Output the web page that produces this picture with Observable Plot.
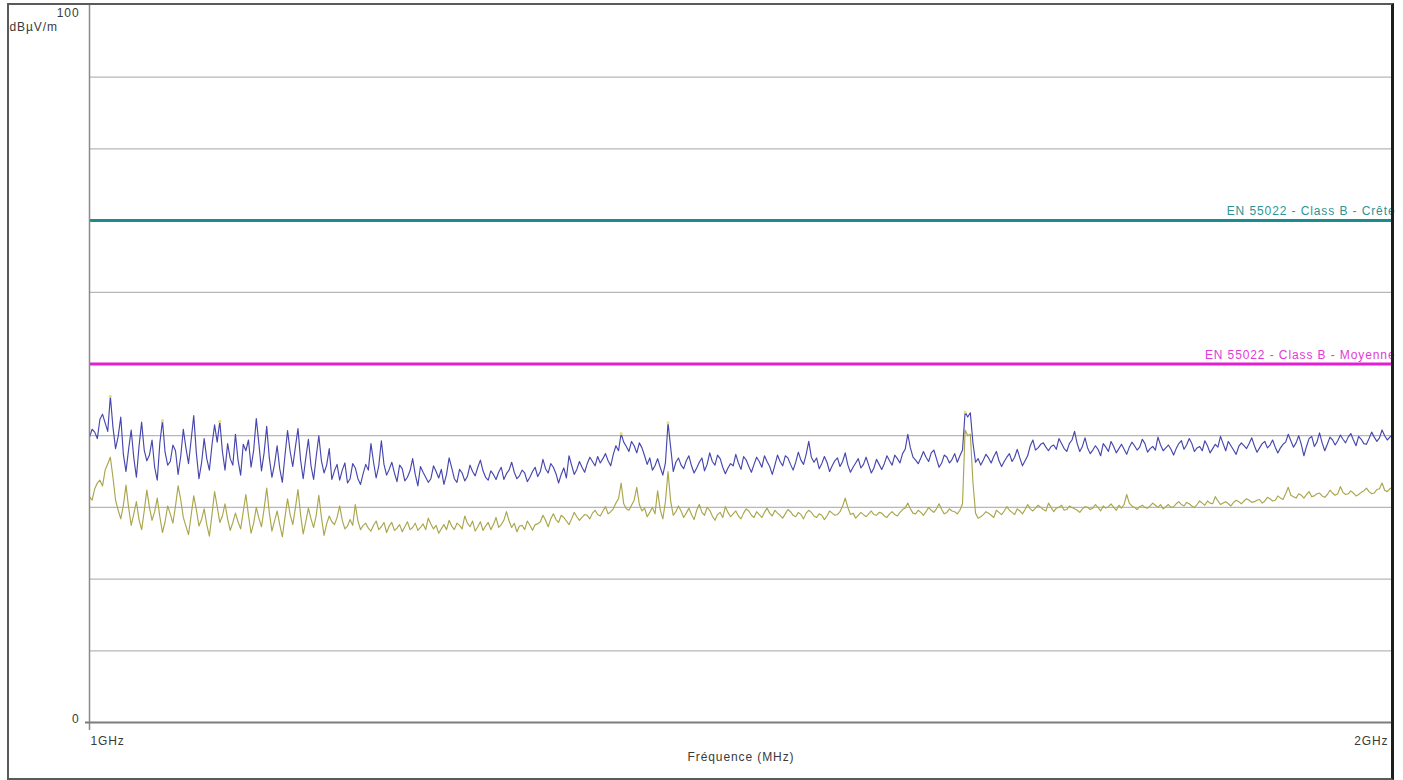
<!DOCTYPE html>
<html>
<head>
<meta charset="utf-8">
<script src="https://cdn.jsdelivr.net/npm/d3@7"></script>
<script src="https://cdn.jsdelivr.net/npm/@observablehq/plot@0.6"></script>
<style>
  html, body { margin: 0; padding: 0; background: #fff; }
  #wrap { position: relative; width: 1403px; height: 780px; }
  #chart svg { display: block; }
  #frame {
    position: absolute; left: 7px; top: 3px; width: 1387px; height: 777px;
    box-sizing: border-box; pointer-events: none;
    border: 2px solid #5a5a5a; border-right: 3px solid #1e1e1e;
  }
</style>
</head>
<body>
<div id="wrap"><div id="chart"></div><div id="frame"></div></div>
<script>
// Sweep 1 GHz – 2 GHz, field strength in dBµV/m
const startMHz = 1000;
const stopMHz = 2000;

// Peak detector trace
const peakValues = [
  39.8, 40.9, 40.5, 39.6, 42.3, 43.0, 41.8, 40.6, 45.5, 41.2, 38.2, 39.9, 42.6, 37.4, 35.0, 38.1, 40.8, 36.9, 34.2, 38.5,
  41.9, 38.0, 36.5, 37.3, 39.4, 35.6, 33.8, 39.0, 42.1, 37.7, 35.9, 36.4, 38.7, 37.9, 34.6, 37.1, 40.9, 38.3, 36.1, 39.4,
  42.8, 37.6, 34.0, 36.2, 39.6, 36.8, 35.2, 38.7, 41.5, 39.1, 42.0, 37.8, 35.2, 38.9, 36.8, 35.9, 40.2, 36.6, 34.5, 38.8,
  37.9, 39.4, 35.6, 38.0, 42.4, 38.9, 35.1, 37.6, 41.3, 36.9, 34.2, 36.0, 38.6, 35.4, 33.5, 37.2, 40.7, 37.8, 35.7, 38.4,
  41.0, 36.6, 34.0, 36.9, 39.5, 35.8, 33.9, 37.1, 40.0, 36.5, 34.8, 35.9, 38.2, 33.9, 35.1, 36.0, 33.8, 35.2, 36.2, 33.4,
  34.0, 36.1, 35.5, 34.0, 33.2, 34.7, 36.0, 35.2, 38.9, 36.3, 34.1, 35.8, 39.3, 36.0, 34.5, 35.3, 36.3, 34.8, 33.6, 35.9,
  35.4, 33.7, 34.2, 35.1, 36.8, 34.6, 33.0, 35.7, 34.9, 34.2, 33.5, 34.0, 35.8, 35.0, 34.1, 35.3, 33.2, 34.6, 36.9, 35.5,
  34.0, 33.5, 35.3, 34.8, 33.7, 34.3, 35.9, 35.0, 34.4, 35.6, 36.6, 35.1, 34.2, 33.8, 35.1, 34.6, 33.9, 34.9, 35.6, 33.9,
  34.7, 35.2, 36.3, 34.9, 34.0, 34.4, 35.2, 34.8, 33.6, 34.2, 35.0, 35.6, 34.3, 35.0, 36.7, 35.4, 34.8, 36.1, 35.6, 34.7,
  33.4, 34.6, 35.5, 34.1, 37.2, 35.9, 34.6, 35.3, 36.4, 35.6, 34.9, 36.1, 37.0, 36.4, 35.8, 37.1, 36.2, 36.8, 37.5, 36.5,
  35.8, 37.4, 38.6, 37.9, 40.3, 39.1, 38.5, 37.8, 39.2, 38.6, 37.6, 39.0, 38.3, 37.2, 36.0, 36.9, 35.2, 35.8, 36.8, 35.6,
  34.5, 36.2, 41.8, 38.4, 35.0, 36.3, 36.9, 35.9, 35.4, 36.5, 37.2, 35.8, 34.8, 35.5, 36.3, 36.9, 35.1, 36.0, 37.6, 36.4,
  35.9, 37.3, 36.8, 35.6, 34.7, 35.5, 36.1, 35.8, 37.4, 36.2, 35.3, 37.1, 36.6, 35.7, 34.9, 36.0, 37.0, 36.4, 35.6, 37.2,
  36.4, 35.7, 34.6, 35.9, 37.3, 36.4, 35.8, 37.2, 36.9, 36.0, 35.2, 36.3, 37.7, 36.6, 36.0, 37.4, 39.2, 37.0, 36.3, 36.9,
  35.4, 36.1, 37.1, 36.3, 35.0, 35.8, 36.5, 36.9, 35.7, 36.4, 37.6, 35.9, 34.9, 35.6, 36.2, 36.8, 35.5, 36.0, 37.0, 35.9,
  34.8, 35.5, 36.7, 36.0, 35.3, 36.1, 37.2, 36.5, 35.9, 37.3, 36.8, 36.2, 37.5, 38.1, 40.2, 38.3, 37.0, 36.6, 36.1, 36.9,
  37.8, 37.0, 36.4, 37.6, 38.0, 36.8, 35.6, 36.2, 37.3, 37.0, 36.2, 36.7, 37.5, 36.3, 37.2, 38.0, 43.3, 42.6, 43.2, 39.0,
  36.3, 36.8, 35.9, 36.6, 37.4, 36.9, 36.2, 37.1, 37.8, 36.5, 35.7, 36.4, 37.0, 37.5, 36.4, 37.0, 38.1, 36.9, 35.8, 36.5,
  37.2, 38.6, 39.4, 38.0, 38.3, 38.8, 39.0, 38.4, 37.9, 38.5, 38.7, 38.1, 39.6, 38.9, 38.2, 37.8, 38.9, 39.4, 40.6, 38.9,
  37.8, 38.5, 39.7, 38.3, 37.5, 38.0, 38.6, 38.1, 37.2, 38.9, 38.4, 37.8, 39.2, 38.5, 37.6, 38.2, 38.8, 38.1, 37.4, 38.4,
  39.1, 38.6, 38.0, 38.4, 39.5, 38.9, 37.7, 38.2, 38.5, 38.0, 39.8, 38.7, 37.9, 38.3, 38.7, 38.1, 37.3, 38.2, 38.9, 39.3,
  38.1, 38.7, 39.6, 38.9, 37.8, 38.3, 38.5, 37.9, 39.3, 38.6, 37.6, 38.2, 38.8, 38.4, 39.9, 38.9, 37.9, 39.2, 38.6, 38.0,
  37.4, 38.5, 39.0, 38.6, 38.2, 38.9, 39.7, 38.6, 37.7, 38.3, 38.9, 39.2, 38.3, 38.7, 39.4, 38.4, 37.6, 38.3, 38.8, 39.1,
  40.2, 39.3, 38.4, 39.0, 40.0, 38.8, 37.2, 38.5, 39.6, 39.9, 38.5, 39.1, 40.4, 39.0, 37.9, 38.8, 39.8, 39.4, 38.7, 39.3,
  40.1, 39.5, 39.0, 39.8, 40.3, 39.4, 38.6, 39.9, 39.5, 38.9, 38.8, 39.6, 40.5, 39.8, 39.2, 39.7, 40.8, 40.0, 39.4, 39.8,
  40.2
];

// Average detector trace
const avgValues = [
  31.5, 31.0, 32.6, 33.4, 33.8, 33.0, 35.2, 36.1, 37.0, 34.2, 31.0, 29.6, 28.4, 30.3, 33.1, 30.0, 27.5, 29.1, 30.8, 28.3,
  26.9, 29.5, 32.4, 30.0, 28.2, 29.4, 31.3, 28.7, 26.5, 28.0, 30.2, 29.1, 27.8, 30.2, 33.0, 31.1, 28.6, 27.4, 26.2, 28.9,
  31.6, 29.7, 27.4, 28.3, 29.8, 27.6, 26.0, 29.0, 32.2, 30.1, 27.9, 28.8, 30.5, 28.4, 26.8, 27.9, 29.2, 28.0, 27.0, 29.4,
  31.8, 28.9, 26.4, 27.8, 30.0, 28.5, 27.3, 29.8, 32.7, 29.3, 26.7, 28.1, 29.5, 27.6, 25.9, 28.6, 31.2, 29.0, 27.6, 29.9,
  32.5, 29.0, 26.3, 28.0, 29.9, 28.4, 27.2, 28.9, 31.7, 28.6, 26.1, 27.7, 28.8, 28.0, 27.6, 28.6, 30.2, 28.2, 27.0, 27.4,
  28.3, 27.5, 30.4, 28.1, 26.9, 27.5, 27.8, 27.1, 26.7, 27.5, 28.1, 26.9, 27.3, 27.9, 26.5, 27.4, 27.9, 26.8, 27.1, 27.6,
  26.6, 27.3, 28.0, 26.9, 27.2, 27.8, 26.8, 27.2, 27.7, 26.9, 28.5, 27.7, 27.0, 27.5, 26.4, 27.0, 27.6, 26.9, 28.2, 27.4,
  26.9, 27.8, 27.5, 27.0, 28.8, 27.8, 27.3, 28.1, 26.7, 27.3, 28.0, 26.8, 27.4, 27.9, 26.9, 27.6, 28.6, 27.2, 27.6, 28.2,
  29.4, 28.1, 27.2, 27.8, 26.6, 27.4, 27.5, 26.9, 28.1, 27.5, 26.8, 27.6, 27.7, 28.0, 28.9, 28.2, 27.3, 28.4, 29.1, 28.3,
  27.9, 28.9, 28.6, 28.1, 27.6, 28.4, 29.3, 28.7, 28.2, 28.6, 29.0, 28.9, 28.4, 29.2, 29.6, 29.0, 28.8, 29.5, 30.1, 29.1,
  29.4, 29.8, 30.6, 31.2, 33.4, 30.5, 29.8, 29.6, 30.3, 31.0, 32.8, 30.4, 29.5, 29.9, 28.7, 29.3, 30.0, 29.1, 32.3, 29.7,
  28.4, 30.8, 35.0, 30.9, 28.9, 29.4, 30.2, 29.5, 28.6, 29.2, 29.9, 29.0, 28.3, 29.6, 30.4, 29.3, 28.9, 30.0, 29.6, 28.8,
  28.2, 29.0, 29.3, 28.6, 30.1, 29.3, 28.7, 29.1, 29.5, 28.8, 28.4, 29.2, 29.8, 29.5, 28.9, 28.6, 29.4, 29.0, 28.6, 29.3,
  29.9, 29.2, 28.8, 29.6, 29.2, 28.9, 28.5, 29.1, 29.7, 29.4, 28.9, 28.7, 29.3, 29.0, 28.4, 29.2, 29.6, 29.3, 28.8, 28.6,
  29.1, 28.9, 28.3, 28.8, 29.5, 29.2, 28.9, 29.0, 29.4, 30.2, 31.3, 30.0, 29.0, 29.2, 28.5, 28.9, 29.3, 29.0, 28.7, 29.1,
  29.5, 29.0, 28.9, 29.3, 29.2, 28.8, 28.6, 29.1, 29.4, 29.0, 28.8, 29.3, 29.7, 29.9, 30.6, 29.8, 29.2, 29.1, 29.6, 29.3,
  28.9, 29.4, 30.0, 29.6, 29.3, 29.8, 30.5, 29.7, 29.1, 29.3, 29.8, 29.5, 29.4, 29.1, 29.6, 30.5, 40.8, 40.0, 40.2, 33.5,
  29.2, 28.5, 28.7, 29.0, 29.4, 29.2, 28.9, 28.6, 29.6, 29.3, 29.0, 29.5, 30.1, 29.6, 29.3, 29.0, 29.8, 29.5, 29.1, 29.7,
  30.4, 29.8, 29.5, 29.9, 30.3, 30.0, 29.7, 29.5, 30.6, 30.0, 29.4, 29.9, 30.0, 30.3, 29.6, 29.7, 30.2, 30.0, 29.8, 29.6,
  29.3, 29.8, 30.1, 30.0, 29.7, 29.9, 30.4, 30.0, 29.5, 30.2, 29.9, 30.1, 30.5, 30.0, 29.6, 30.3, 29.9, 30.4, 31.8, 30.6,
  30.2, 30.0, 29.7, 30.1, 30.3, 30.0, 29.9, 30.2, 30.6, 30.3, 30.0, 30.4, 29.8, 30.1, 30.4, 30.0, 30.1, 30.5, 30.8, 30.4,
  30.2, 30.7, 30.5, 30.2, 30.0, 30.4, 30.9, 30.6, 30.3, 30.9, 30.6, 30.5, 31.5, 30.9, 30.4, 30.6, 30.8, 30.5, 30.2, 30.7,
  31.0, 30.8, 30.5, 30.9, 31.2, 31.0, 30.7, 30.8, 31.0, 31.1, 30.6, 30.9, 31.4, 31.2, 30.9, 31.0, 31.6, 31.3, 31.1, 31.9,
  32.8, 31.7, 31.5, 31.3, 31.9, 31.7, 31.3, 31.8, 32.2, 31.5, 31.6, 31.9, 32.0, 31.6, 31.4, 31.8, 32.4, 32.0, 31.7, 31.9,
  32.9, 32.1, 31.8, 31.9, 32.3, 32.0, 31.6, 31.8, 32.1, 32.3, 32.7, 32.2, 31.9, 32.0, 32.5, 32.6, 33.4, 32.4, 32.2, 32.6,
  32.8
];

// Frequencies (MHz) where the peak trace carries a marker
const markerFreqs = [1016, 1056, 1100, 1408, 1444, 1672];

// EN 55022 Class B limits above 1 GHz
const limitLevels = [70, 50];
const limitLabels = ["EN 55022 - Class B - Crête", "EN 55022 - Class B - Moyenne"];

// Axis texts
const gridLevels = [10, 20, 30, 40, 50, 60, 70, 80, 90];
const yTickValues = [0, 100];
const yUnit = "dBµV/m";
const xTickValues = [1000, 2000];
const xTickLabels = ["1GHz", "2GHz"];
const xTitle = "Fréquence (MHz)";

const step = (stopMHz - startMHz) / (peakValues.length - 1);
const freqs = peakValues.map((_, i) => startMHz + i * step);
const peakData = freqs.map((f, i) => ({f, v: peakValues[i]}));
const avgData = freqs.map((f, i) => ({f, v: avgValues[i]}));
const markerData = peakData.filter(d => markerFreqs.some(m => Math.abs(m - d.f) < step / 2));
const limits = limitLevels.map((level, i) => ({level, label: limitLabels[i]}));

const textColor = "#3a3a3a";
const crestColor = "#1b8b8b";
const avgLimitColor = "#e21fd2";

const chart = Plot.plot({
  width: 1403,
  height: 780,
  marginLeft: 89,
  marginRight: 11,
  marginTop: 5,
  marginBottom: 58,
  x: {type: "linear", domain: [startMHz, stopMHz], axis: null},
  y: {domain: [0, 100], axis: null},
  style: {
    fontFamily: "'Liberation Sans', Arial, sans-serif",
    fontSize: "12px",
    letterSpacing: "0.9px",
    background: "#fff",
    overflow: "visible"
  },
  marks: [
    // horizontal grid
    Plot.gridY(gridLevels, {stroke: "#b7b7b7", strokeOpacity: 1, strokeWidth: 1.3}),

    // limit lines
    Plot.ruleY([limits[0]], {y: "level", stroke: crestColor, strokeWidth: 3}),
    Plot.ruleY([limits[1]], {y: "level", stroke: avgLimitColor, strokeWidth: 3}),
    Plot.text([limits[0]], {
      x: () => stopMHz, y: "level", text: "label",
      textAnchor: "end", dx: 3, dy: -9, fill: "#2c9494", fontSize: 12
    }),
    Plot.text([limits[1]], {
      x: () => stopMHz, y: "level", text: "label",
      textAnchor: "end", dx: 3, dy: -9, fill: "#e23ad6", fontSize: 12
    }),

    // measured traces
    Plot.line(avgData, {x: "f", y: "v", stroke: "#aaa64c", strokeWidth: 1.15}),
    Plot.line(peakData, {x: "f", y: "v", stroke: "#4646ae", strokeWidth: 1.15}),
    Plot.dot(markerData, {x: "f", y: "v", r: 1.6, fill: "#e9e27a", stroke: "none"}),

    // axis lines
    Plot.ruleX([startMHz], {stroke: "#8a8a8a", strokeWidth: 1.5, insetBottom: -8}),
    Plot.ruleY([0], {stroke: "#7c7c7c", strokeWidth: 2, insetLeft: -4}),

    // y-axis texts
    Plot.text([yTickValues[1]], {
      y: d => d, text: d => String(d), frameAnchor: "left",
      textAnchor: "end", dx: -10, dy: 8, fill: textColor
    }),
    Plot.text([yTickValues[0]], {
      y: d => d, text: d => String(d), frameAnchor: "left",
      textAnchor: "end", dx: -10, dy: -3, fill: textColor
    }),
    Plot.text([yUnit], {
      text: d => d, frameAnchor: "top-left",
      textAnchor: "start", dx: -80, dy: 17, fill: textColor
    }),

    // x-axis texts
    Plot.text([0], {
      x: () => xTickValues[0], text: () => xTickLabels[0], frameAnchor: "bottom",
      textAnchor: "start", dx: 1, dy: 22, fill: textColor
    }),
    Plot.text([1], {
      x: () => xTickValues[1], text: () => xTickLabels[1], frameAnchor: "bottom",
      textAnchor: "end", dx: -4, dy: 22, fill: textColor
    }),
    Plot.text([xTitle], {
      text: d => d, frameAnchor: "bottom", dy: 38, fill: textColor
    })
  ]
});

document.getElementById("chart").appendChild(chart);
</script>
</body>
</html>
